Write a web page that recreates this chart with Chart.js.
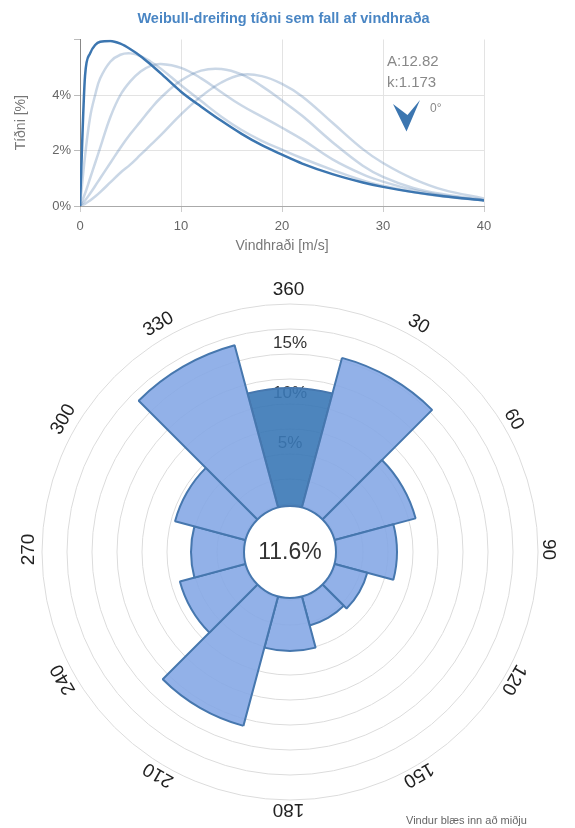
<!DOCTYPE html>
<html>
<head>
<meta charset="utf-8">
<script src="https://cdn.jsdelivr.net/npm/chart.js@4.4.1/dist/chart.umd.min.js"></script>
<style>
  html, body { margin: 0; padding: 0; background: #fff; overflow: hidden; }
  #weibull { position: absolute; left: 0; top: 0; }
  #rose { position: absolute; left: 0; top: 260px; }
</style>
</head>
<body>
<canvas id="weibull" width="575" height="256"></canvas>
<canvas id="rose" width="575" height="568"></canvas>
<script>
var speeds = [0, 0.5, 1, 1.5, 2, 3, 4, 5, 6, 7, 8, 10, 12, 14, 16, 18, 20, 22, 25, 28, 30, 33, 36, 40];
// tíðni [%] - selected sector (0°)
var freqSelected = [0, 4.7, 5.5, 5.8, 5.92, 5.95, 5.85, 5.65, 5.4, 5.1, 4.78, 4.12, 3.58, 3.07, 2.6, 2.19, 1.85, 1.53, 1.15, 0.85, 0.69, 0.5, 0.35, 0.2];
// tíðni [%] - the other (faded) curves
var freqOtherA = [0, 1.8, 3.2, 4.0, 4.6, 5.2, 5.45, 5.5, 5.4, 5.2, 4.95, 4.35, 3.78, 3.22, 2.74, 2.35, 2.03, 1.72, 1.3, 0.92, 0.73, 0.5, 0.34, 0.2];
var freqOtherB = [0, 0.45, 1.0, 1.55, 2.1, 3.2, 4.0, 4.5, 4.85, 5.05, 5.12, 4.98, 4.6, 4.1, 3.62, 3.22, 2.82, 2.4, 1.68, 1.14, 0.88, 0.58, 0.38, 0.2];
var freqOtherC = [0, 0.2, 0.45, 0.72, 1.0, 1.55, 2.1, 2.6, 3.05, 3.5, 3.9, 4.52, 4.88, 4.94, 4.74, 4.32, 3.8, 3.25, 2.3, 1.45, 1.05, 0.65, 0.42, 0.22];
var freqOtherD = [0, 0.08, 0.2, 0.34, 0.5, 0.85, 1.2, 1.5, 1.85, 2.2, 2.55, 3.3, 3.95, 4.45, 4.73, 4.68, 4.4, 3.95, 3.0, 2.05, 1.55, 0.98, 0.58, 0.27];
var weibullA = '12.82';
var weibullK = '1.173';

// wind rose
var directions = [0, 30, 60, 90, 120, 150, 180, 210, 240, 270, 300, 330];
var angleLabels = ['360', '30', '60', '90', '120', '150', '180', '210', '240', '270', '300', '330'];
var sectorFreq = [11.6, 15.3, 8.2, 5.9, 3.2, 2.8, 5.1, 13.2, 6.6, 5.1, 7.1, 16.6];
var selectedSector = 0;
var ringTicks = [0, 2.5, 5, 7.5, 10, 12.5, 15, 17.5, 20];
var ringLabels = [5, 10, 15];

var lightLine = 'rgba(95,135,180,0.33)';
var darkLine = '#3c76b0';

function points(arr) {
    return speeds.map(function (x, i) { return { x: x, y: arr[i] }; });
}

function faded(arr) {
    return { data: points(arr), borderColor: lightLine, borderWidth: 2.5, cubicInterpolationMode: 'default', tension: 0.4 };
}

var weibullNotes = {
    id: 'weibullNotes',
    afterDraw: function (chart) {
        var ctx = chart.ctx;
        ctx.save();
        // title
        ctx.fillStyle = '#4a86c4';
        ctx.font = 'bold 14.5px Arial';
        ctx.textAlign = 'center';
        ctx.textBaseline = 'middle';
        ctx.fillText('Weibull-dreifing tíðni sem fall af vindhraða', 283.5, 18.5);
        ctx.fillStyle = '#888';
        ctx.font = '15px Arial';
        ctx.textAlign = 'left';
        ctx.fillText('A:' + weibullA, 387, 62);
        ctx.fillText('k:' + weibullK, 387, 82.5);
        ctx.font = '12px Arial';
        ctx.fillText(directions[selectedSector] + '°', 430, 109);
        // direction arrow
        var cx = 406, cy = 115;
        ctx.fillStyle = '#3c76b0';
        ctx.beginPath();
        ctx.moveTo(cx - 13, cy - 11);
        ctx.lineTo(cx + 1.5, cy);
        ctx.lineTo(cx + 14, cy - 15);
        ctx.lineTo(cx + 0.5, cy + 16.5);
        ctx.closePath();
        ctx.fill();
        ctx.restore();
    }
};

new Chart(document.getElementById('weibull').getContext('2d'), {
    type: 'line',
    data: {
        datasets: [
            { data: points(freqSelected), borderColor: darkLine, borderWidth: 2.5, cubicInterpolationMode: 'monotone' },
            faded(freqOtherA),
            faded(freqOtherB),
            faded(freqOtherC),
            faded(freqOtherD)
        ]
    },
    options: {
        responsive: false,
        animation: false,
        layout: { padding: { left: 0, right: 91, top: 39.5, bottom: 0 } },
        elements: {
            point: { radius: 0 },
            line: { fill: false }
        },
        plugins: {
            legend: { display: false },
            tooltip: { enabled: false },
            title: { display: false }
        },
        scales: {
            x: {
                type: 'linear',
                min: 0,
                max: 40,
                afterFit: function (s) { s.height = 50; },
                ticks: { stepSize: 10, color: '#666', font: { family: 'Arial', size: 13 }, padding: 7 },
                grid: { color: '#e3e3e3', tickColor: '#ccc', tickLength: 6 },
                border: { color: '#aaa' },
                title: {
                    display: true,
                    text: 'Vindhraði [m/s]',
                    color: '#777',
                    font: { family: 'Arial', size: 14 },
                    padding: { top: 2, bottom: 1 }
                }
            },
            y: {
                min: 0,
                max: 6,
                afterFit: function (s) { s.width = 80; },
                ticks: {
                    stepSize: 2,
                    color: '#666',
                    font: { family: 'Arial', size: 13 },
                    padding: 3,
                    callback: function (v) { return v >= 6 ? '' : v + '%'; }
                },
                grid: {
                    color: function (c) { return c.tick && c.tick.value >= 6 ? 'rgba(0,0,0,0)' : '#e3e3e3'; },
                    tickColor: '#bbb',
                    tickLength: 6
                },
                border: { color: '#888' },
                title: {
                    display: true,
                    text: 'Tíðni [%]',
                    color: '#777',
                    font: { family: 'Arial', size: 14 },
                    padding: { top: 13, bottom: 0 }
                }
            }
        }
    },
    plugins: [weibullNotes]
});

var roseDecor = {
    id: 'roseDecor',
    beforeDatasetsDraw: function (chart) {
        var s = chart.scales.r, ctx = chart.ctx;
        ctx.save();
        ctx.fillStyle = '#333';
        ctx.font = '17px Arial';
        ctx.textAlign = 'center';
        ctx.textBaseline = 'middle';
        ringLabels.forEach(function (v) {
            ctx.fillText(v + '%', s.xCenter, s.yCenter - s.getDistanceFromCenterForValue(v) - 11);
        });
        ctx.restore();
    },
    afterDatasetsDraw: function (chart) {
        var s = chart.scales.r, ctx = chart.ctx;
        var xc = s.xCenter, yc = s.yCenter;
        ctx.save();
        // hole in the middle
        ctx.beginPath();
        ctx.arc(xc, yc, s.getDistanceFromCenterForValue(0) - 2, 0, Math.PI * 2);
        ctx.fillStyle = '#fff';
        ctx.fill();
        ctx.lineWidth = 2;
        ctx.strokeStyle = '#4677ae';
        ctx.stroke();
        ctx.fillStyle = '#333';
        ctx.font = '23px Arial';
        ctx.textAlign = 'center';
        ctx.textBaseline = 'middle';
        ctx.fillText(sectorFreq[selectedSector].toFixed(1) + '%', xc, yc + 1);
        // direction labels round the rose
        var R = s.drawingArea + 12;
        ctx.font = '19px Arial';
        ctx.fillStyle = '#222';
        directions.forEach(function (d, i) {
            var a = d * Math.PI / 180;
            ctx.save();
            ctx.translate(xc - 1.5 + R * Math.sin(a), yc - 2.5 - R * Math.cos(a));
            ctx.rotate(a);
            ctx.fillText(angleLabels[i], 0, 0);
            ctx.restore();
        });
        ctx.font = '11px Arial';
        ctx.fillStyle = '#666';
        ctx.textAlign = 'left';
        ctx.fillText('Vindur blæs inn að miðju', 406, 561);
        ctx.restore();
    }
};

new Chart(document.getElementById('rose').getContext('2d'), {
    type: 'polarArea',
    data: {
        labels: directions,
        datasets: [{
            data: sectorFreq,
            backgroundColor: function (c) {
                return c.dataIndex === selectedSector ? 'rgba(58,120,182,0.9)' : 'rgba(134,169,229,0.9)';
            },
            borderColor: '#4677ae',
            borderWidth: 2
        }]
    },
    options: {
        responsive: false,
        animation: false,
        layout: { padding: { left: 42, right: 37, top: 44, bottom: 28 } },
        plugins: {
            legend: { display: false },
            tooltip: { enabled: false }
        },
        scales: {
            r: {
                min: -4.8,
                max: 20,
                startAngle: -15,
                afterBuildTicks: function (s) {
                    s.ticks = ringTicks.map(function (v) { return { value: v }; });
                },
                ticks: { display: false },
                grid: { color: '#dcdcdc', lineWidth: 1 },
                angleLines: { display: false },
                pointLabels: { display: false }
            }
        }
    },
    plugins: [roseDecor]
});
</script>
</body>
</html>
